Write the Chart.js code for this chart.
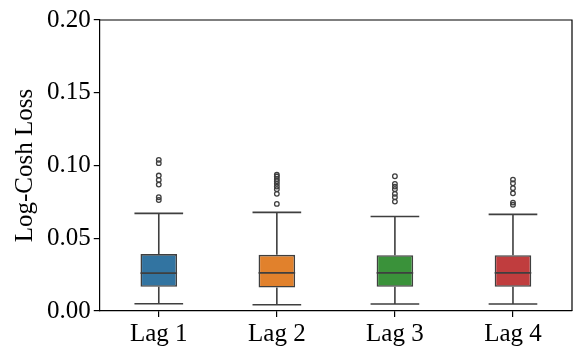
<!DOCTYPE html>
<html>
<head>
<meta charset="utf-8">
<script src="https://cdn.jsdelivr.net/npm/chart.js@4.4.0/dist/chart.umd.min.js"></script>
<style>
  html, body { margin: 0; padding: 0; background: #fff; }
  #wrap { width: 581px; height: 356px; }
</style>
</head>
<body>
<div id="wrap"><canvas id="lossChart"></canvas></div>
<script>
// box plot stats
var lags = ["Lag 1", "Lag 2", "Lag 3", "Lag 4"];
var whiskerLow = [0.0050, 0.0043, 0.0048, 0.0048];
var q1 = [0.0166, 0.0161, 0.0166, 0.0166];
var medians = [0.0260, 0.0262, 0.0262, 0.0262];
var q3 = [0.0391, 0.0386, 0.0384, 0.0384];
var whiskerHigh = [0.0671, 0.0678, 0.0650, 0.0664];
var outliers1 = [0.1039, 0.1016, 0.0931, 0.0901, 0.0869, 0.0782, 0.0763];
var outliers2 = [0.0936, 0.0924, 0.0908, 0.0892, 0.0874, 0.0855, 0.0837, 0.0805, 0.0736];
var outliers3 = [0.0926, 0.0874, 0.0855, 0.0837, 0.0805, 0.0782, 0.0752];
var outliers4 = [0.0903, 0.0878, 0.0844, 0.0809, 0.0745, 0.0730];
var yTicks = [0.00, 0.05, 0.10, 0.15, 0.20];

var boxColors = ["#3274a1", "#e1812c", "#3a923a", "#c03d3e"];
var lineGray = "#3f3f3f";
var serif = "'Liberation Serif', 'DejaVu Serif', serif";

var boxes = [];
for (var i = 0; i < lags.length; i++) {
	boxes.push([q1[i], q3[i]]);
}

var fliers = [];
var allOut = [outliers1, outliers2, outliers3, outliers4];
for (var j = 0; j < allOut.length; j++) {
	for (var k = 0; k < allOut[j].length; k++) {
		fliers.push({ x: lags[j], y: allOut[j][k] });
	}
}

// whiskers, caps and medians drawn with the chart's own scales
var boxExtras = {
	id: "boxExtras",
	afterDatasetsDraw: function(chart) {
		var ctx = chart.ctx;
		var xs = chart.scales.x, ys = chart.scales.y;
		var bars = chart.getDatasetMeta(0).data;
		ctx.save();
		ctx.strokeStyle = lineGray;
		ctx.lineWidth = 1.6;
		for (var i = 0; i < lags.length; i++) {
			var cx = xs.getPixelForValue(i);
			var half = bars[i].width / 2;
			var cap = half * 1.33;
			ctx.beginPath();
			ctx.moveTo(cx, ys.getPixelForValue(q3[i]));
			ctx.lineTo(cx, ys.getPixelForValue(whiskerHigh[i]));
			ctx.moveTo(cx, ys.getPixelForValue(q1[i]));
			ctx.lineTo(cx, ys.getPixelForValue(whiskerLow[i]));
			ctx.moveTo(cx - cap, ys.getPixelForValue(whiskerHigh[i]));
			ctx.lineTo(cx + cap, ys.getPixelForValue(whiskerHigh[i]));
			ctx.moveTo(cx - cap, ys.getPixelForValue(whiskerLow[i]));
			ctx.lineTo(cx + cap, ys.getPixelForValue(whiskerLow[i]));
			ctx.moveTo(cx - half, ys.getPixelForValue(medians[i]));
			ctx.lineTo(cx + half, ys.getPixelForValue(medians[i]));
			ctx.stroke();
		}
		// close the frame on top and right
		var a = chart.chartArea;
		ctx.strokeStyle = "#000";
		ctx.lineWidth = 1.2;
		ctx.beginPath();
		ctx.moveTo(a.left, a.top);
		ctx.lineTo(a.right, a.top);
		ctx.lineTo(a.right, a.bottom);
		ctx.stroke();
		ctx.restore();
	}
};

var ctx = document.getElementById("lossChart");
var chart = new Chart(ctx, {
	type: "bar",
	data: {
		labels: lags,
		datasets: [
			{
				data: boxes,
				backgroundColor: boxColors,
				borderColor: lineGray,
				borderWidth: 1.6,
				borderSkipped: false,
				categoryPercentage: 1.0,
				barPercentage: 0.31,
				order: 2
			},
			{
				type: "line",
				data: fliers,
				showLine: false,
				pointRadius: 2.3,
				pointBorderWidth: 1.3,
				pointBorderColor: lineGray,
				pointBackgroundColor: "rgba(255,255,255,0)",
				order: 1
			}
		]
	},
	options: {
		responsive: true,
		maintainAspectRatio: false,
		animation: false,
		layout: { padding: { top: 20, right: 9, left: 10, bottom: 5 } },
		plugins: {
			legend: { display: false },
			tooltip: { enabled: false }
		},
		scales: {
			x: {
				grid: { display: true, offset: false, drawOnChartArea: false, drawTicks: true, tickLength: 6, color: "#000", lineWidth: 1.2 },
				border: { display: true, color: "#000", width: 1.2 },
				ticks: { color: "#000", font: { family: serif, size: 25 }, padding: 2 }
			},
			y: {
				min: 0,
				max: 0.2,
				afterBuildTicks: function(axis) {
					axis.ticks = yTicks.map(function(v) { return { value: v }; });
				},
				grid: { display: true, drawOnChartArea: false, drawTicks: true, tickLength: 6, color: "#000", lineWidth: 1.2 },
				border: { display: true, color: "#000", width: 1.2 },
				ticks: {
					color: "#000",
					font: { family: serif, size: 25 },
					padding: 3,
					callback: function(v) { return Number(v).toFixed(2); }
				},
				title: { display: true, text: "Log-Cosh Loss", color: "#000", font: { family: serif, size: 25 }, padding: { top: 0, bottom: 4 } }
			}
		}
	},
	plugins: [boxExtras]
});
</script>
</body>
</html>
